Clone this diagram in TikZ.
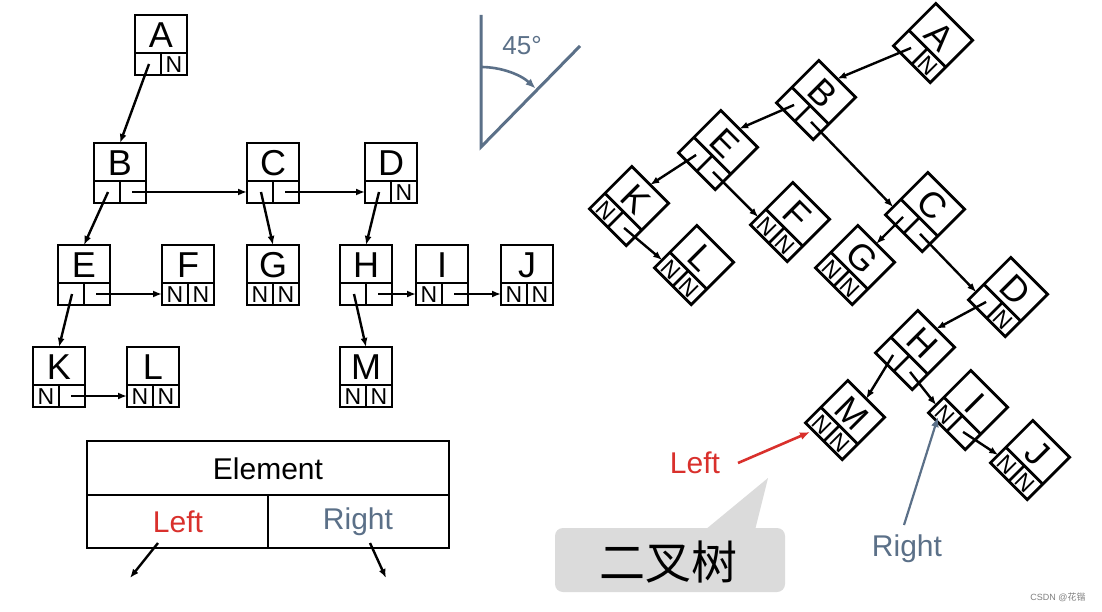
\documentclass[tikz,border=0pt]{standalone}
\usepackage{fontspec}
\setmainfont{Liberation Sans}
\newfontfamily\cjk{Noto Sans CJK SC}
\usetikzlibrary{arrows.meta}
\definecolor{lred}{HTML}{D9302C}
\definecolor{lblue}{HTML}{5B7088}
\tikzset{
  lt/.style={inner sep=0pt,font=\fontsize{36}{36}\selectfont},
  nt/.style={inner sep=0pt,font=\fontsize{23}{23}\selectfont},
  arr/.style={-{Latex[length=9pt,width=7pt]},line width=2.4pt},
  box/.style={line width=2.8pt},
  pics/bnode/.style n args={3}{code={
    \draw[box] (-26,-30) rectangle (26,30);
    \draw[box] (-26,8)--(26,8);
    \draw[box] (0,8)--(0,30);
    \node[lt] (-t) at (0,-10) {#1};
    \node[nt] (-a) at (-13,19.5) {#2};
    \node[nt] (-b) at (13,19.5) {#3};
    \coordinate (-l) at (-12,19);
    \coordinate (-r) at (12,19);
    \coordinate (-n) at (0,-30);
    \coordinate (-w) at (-26,19);
  }}
}
\begin{document}
\begin{tikzpicture}[x=1pt,y=-1pt]
\useasboundingbox[fill=white] (0,0) rectangle (1102,612);
% left tree
\pic (A) at (161,45) {bnode={A}{}{N}};
\pic (B) at (120,173) {bnode={B}{}{}};
\pic (C) at (273,173) {bnode={C}{}{}};
\pic (D) at (391,173) {bnode={D}{}{N}};
\pic (E) at (84,275) {bnode={E}{}{}};
\pic (F) at (188,275) {bnode={F}{N}{N}};
\pic (G) at (273,275) {bnode={G}{N}{N}};
\pic (H) at (366,275) {bnode={H}{}{}};
\pic (I) at (442,275) {bnode={I}{N}{}};
\pic (J) at (527,275) {bnode={J}{N}{N}};
\pic (K) at (59,377) {bnode={K}{N}{}};
\pic (L) at (153,377) {bnode={L}{N}{N}};
\pic (M) at (366,377) {bnode={M}{N}{N}};
\draw[arr] (A-l) -- (B-n);
\draw[arr] (B-l) -- (E-n);
\draw[arr] (B-r) -- (C-w);
\draw[arr] (C-l) -- (G-n);
\draw[arr] (C-r) -- (D-w);
\draw[arr] (D-l) -- (H-n);
\draw[arr] (E-l) -- (K-n);
\draw[arr] (E-r) -- (F-w);
\draw[arr] (H-l) -- (M-n);
\draw[arr] (H-r) -- (I-w);
\draw[arr] (I-r) -- (J-w);
\draw[arr] (K-r) -- (L-w);
% right tree
\begin{scope}[every pic/.style={rotate=-45,transform shape}]
\pic (rA) at (933,43) {bnode={A}{}{N}};
\pic (rB) at (816,100) {bnode={B}{}{}};
\pic (rE) at (718,150) {bnode={E}{}{}};
\pic (rK) at (629,206) {bnode={K}{N}{}};
\pic (rF) at (790,222) {bnode={F}{N}{N}};
\pic (rL) at (694,265) {bnode={L}{N}{N}};
\pic (rC) at (925,212) {bnode={C}{}{}};
\pic (rG) at (855,265) {bnode={G}{N}{N}};
\pic (rD) at (1008,297) {bnode={D}{}{N}};
\pic (rH) at (915,350) {bnode={H}{}{}};
\pic (rM) at (845,420) {bnode={M}{N}{N}};
\pic (rI) at (968,410) {bnode={I}{N}{}};
\pic (rJ) at (1030,460) {bnode={J}{N}{N}};
\end{scope}
\draw[arr] (rA-l) -- (rB-n);
\draw[arr] (rB-l) -- (rE-n);
\draw[arr] (rB-r) -- (rC-w);
\draw[arr] (rE-l) -- (rK-n);
\draw[arr] (rE-r) -- (rF-w);
\draw[arr] (rK-r) -- (rL-w);
\draw[arr] (rC-l) -- (rG-n);
\draw[arr] (rC-r) -- (rD-w);
\draw[arr] (rD-l) -- (rH-n);
\draw[arr] (rH-l) -- (rM-n);
\draw[arr] (rH-r) -- (rI-w);
\draw[arr] (rI-r) -- (rJ-w);
% legend
\draw[box] (87,441) rectangle (449,548);
\draw[box] (87,495) -- (449,495);
\draw[box] (268,495) -- (268,548);
\node[inner sep=0pt,font=\fontsize{30}{30}\selectfont] (el) at (268,469) {Element};
\node[inner sep=0pt,font=\fontsize{30}{30}\selectfont,text=lred] (lf) at (178,522) {Left};
\node[inner sep=0pt,font=\fontsize{30}{30}\selectfont,text=lblue] (rt) at (358,522) {Right};
\coordinate (la) at (130,578);
\coordinate (ra) at (386,578);
\draw[arr] (158,543) -- (la);
\draw[arr] (370,543) -- (ra);
% angle
\draw[lblue,line width=3pt] (481,15) -- (481,147) -- (580,46);
\draw[lblue,line width=2.6pt,-{Latex[length=10pt,width=8pt]}] (481,67) arc[start angle=-90,end angle=-47,radius=80];
\node[inner sep=0pt,text=lblue,font=\fontsize{26}{26}\selectfont] (deg) at (522,46) {45°};
% callout
\fill[gray!28] (705,530) -- (768,478) -- (755,530) -- cycle;
\fill[gray!28,rounded corners=8pt] (555,528) rectangle (785,592);
\node[inner sep=0pt,font=\cjk\fontsize{46}{46}\selectfont] (bt) at (668,562) {二叉树};
% labels
\node[inner sep=0pt,font=\fontsize{30}{30}\selectfont,text=lred] (L2) at (695,463) {Left};
\coordinate (lp) at (810,432);
\draw[lred,line width=2.6pt,-{Latex[length=10pt,width=8pt]}] (738,463) -- (lp);
\node[inner sep=0pt,font=\fontsize{30}{30}\selectfont,text=lblue] (R2) at (907,549) {Right};
\coordinate (rp) at (938,417);
\draw[lblue,line width=2.2pt,-{Latex[length=10pt,width=8pt]}] (904,525) -- (rp);
\node[inner sep=0pt,text=gray,font=\fontsize{9}{9}\selectfont] (wm) at (1058,597) {CSDN @{\cjk 花锴}};
\end{tikzpicture}
\end{document}
